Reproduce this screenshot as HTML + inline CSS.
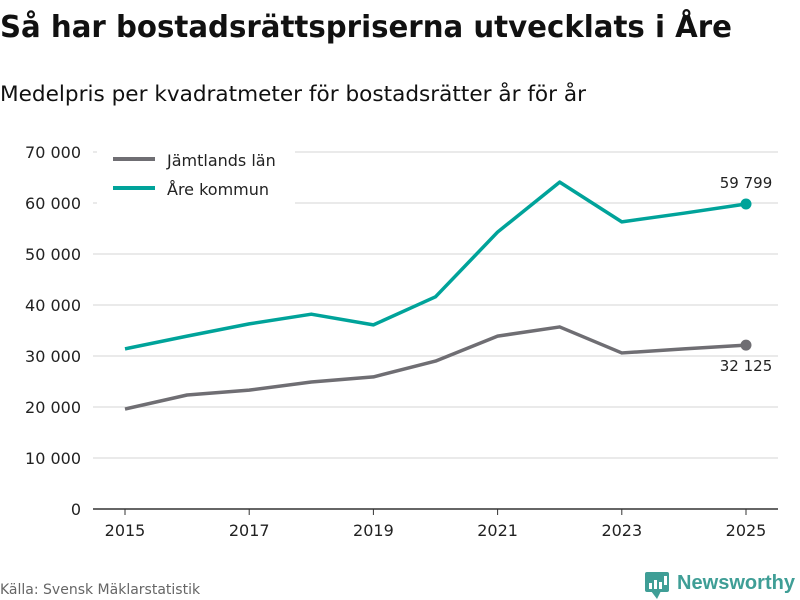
<!DOCTYPE html>
<html><head><meta charset="utf-8"><style>
body{margin:0;width:800px;height:600px;background:#fff;font-family:"DejaVu Sans","Liberation Sans",sans-serif;overflow:hidden}
svg{position:absolute;left:0;top:0}
</style></head><body>
<svg width="800" height="600">
<text x="0" y="37" font-size="30" font-weight="bold" fill="#111" textLength="732" lengthAdjust="spacingAndGlyphs">Så har bostadsrättspriserna utvecklats i Åre</text>
<text x="0" y="101" font-size="21" fill="#111" textLength="586" lengthAdjust="spacingAndGlyphs">Medelpris per kvadratmeter för bostadsrätter år för år</text>
<g id="grid"></g><g id="xaxis"></g><g id="series"></g>
<rect x="97" y="144" width="198" height="62" fill="#fff"/>
<line x1="113" y1="159" x2="155" y2="159" stroke="#6f6e73" stroke-width="4"/>
<text x="167" y="166" font-size="16" fill="#222">Jämtlands län</text>
<line x1="113" y1="188" x2="155" y2="188" stroke="#00a39a" stroke-width="4"/>
<text x="167" y="195" font-size="16" fill="#222">Åre kommun</text>
<text x="0" y="594" font-size="14" fill="#666">Källa: Svensk Mäklarstatistik</text>
<g>
<rect x="645" y="572" width="24" height="20" rx="2" fill="#3f9e96"/>
<polygon points="651,591 657,599 661,591" fill="#3f9e96"/>
<rect x="649" y="583" width="3" height="6" fill="#fff"/><rect x="654" y="580" width="3" height="9" fill="#fff"/><rect x="659" y="582" width="3" height="7" fill="#fff"/><rect x="664" y="576" width="3" height="9" fill="#fff"/>
<text x="677" y="589" font-size="20" fill="#3f9e96" font-weight="bold" font-family="Liberation Sans, sans-serif" textLength="118" lengthAdjust="spacingAndGlyphs">Newsworthy</text>
</g>
</svg>
<script>
const years=[2015,2016,2017,2018,2019,2020,2021,2022,2023,2024,2025];
const jamtland=[19600,22350,23300,24900,25900,29000,33900,35700,30600,31400,32125];
const are=[31400,33900,36300,38200,36100,41600,54300,64100,56300,58000,59799];
const yTicks=[0,10000,20000,30000,40000,50000,60000,70000];
const xTicks=[2015,2017,2019,2021,2023,2025];
const NS="http://www.w3.org/2000/svg";
const xs=y=>125+(y-2015)*62.1;
const ys=v=>509-v*(357/70000);
const fmt=v=>v.toLocaleString('en-US').replace(/,/g,' ');
function mk(tag,attrs,parent){const e=document.createElementNS(NS,tag);for(const k in attrs)e.setAttribute(k,attrs[k]);document.getElementById(parent).appendChild(e);return e;}
yTicks.forEach(v=>{
 const l=mk('line',{x1:93,x2:778,y1:ys(v),y2:ys(v),stroke:v===0?'#333':'#ddd','stroke-width':v===0?1.5:1.3},'grid');
 
 
 const t=mk('text',{x:81,y:ys(v)+6,'text-anchor':'end','font-size':16,fill:'#222'},'grid');
 t.textContent=fmt(v);
 
 
});
xTicks.forEach(y=>{
 const l=mk('line',{x1:xs(y),x2:xs(y),y1:509,y2:515,stroke:'#333'},'xaxis');
 
 
 const t=mk('text',{x:xs(y),y:536,'text-anchor':'middle','font-size':16,fill:'#222'},'xaxis');
 t.textContent=y;
 
 
});
function line(data,color,name,labelDy){
 const p=mk('polyline',{points:data.map((v,i)=>xs(years[i])+','+ys(v)).join(' '),fill:'none',stroke:color,'stroke-width':3.5,'stroke-linejoin':'round'},'series');
 
 
 const n=data.length-1;
 const c=mk('circle',{cx:xs(years[n]),cy:ys(data[n]),r:5.5,fill:color},'series');
 
 
 const t=mk('text',{x:xs(years[n]),y:ys(data[n])+labelDy,'text-anchor':'middle','font-size':15,fill:'#222'},'series');
 t.textContent=fmt(data[n]);
 
 
}
line(jamtland,'#6f6e73','jamtland',26);
line(are,'#00a39a','are',-16);
</script>
</body></html>
